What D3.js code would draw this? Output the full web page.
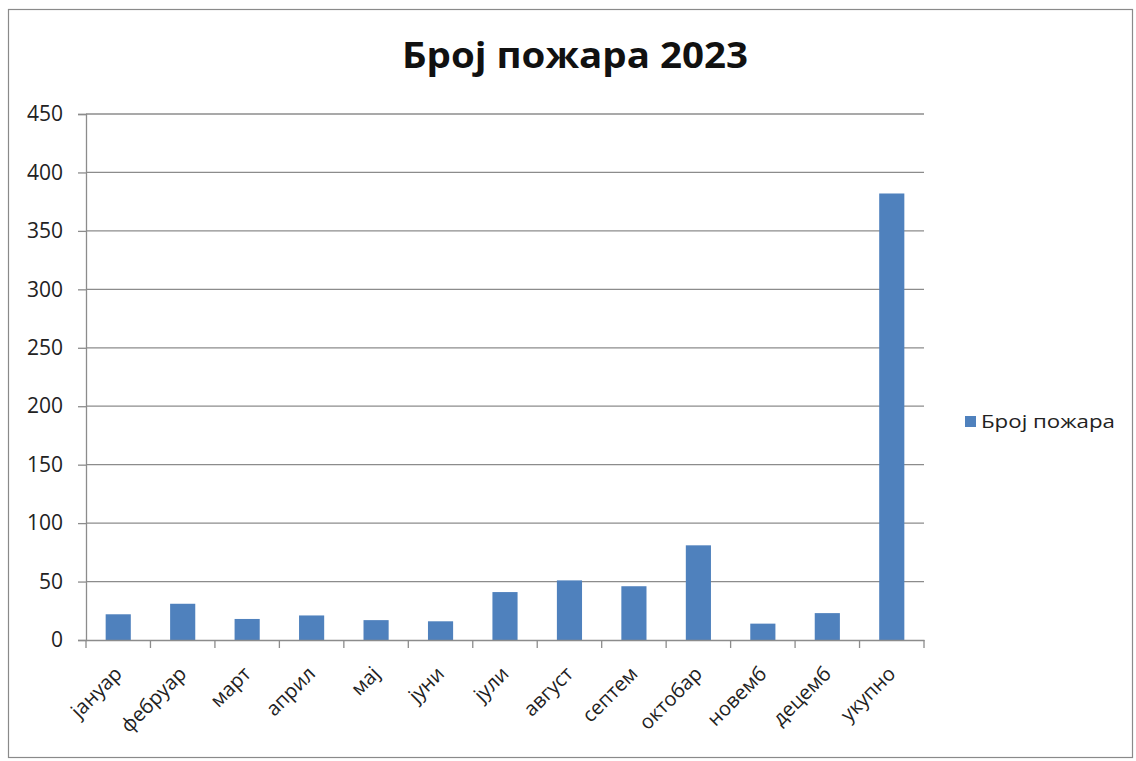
<!DOCTYPE html>
<html>
<head>
<meta charset="utf-8">
<script src="https://cdn.jsdelivr.net/npm/d3@7"></script>
<style>
  body { margin: 0; background: #fff; }
  svg { display: block; }
</style>
</head>
<body>
<div id="chart"></div>
<script>
// podaci
const months = ['јануар', 'фебруар', 'март', 'април', 'мај', 'јуни', 'јули',
    'август', 'септем', 'октобар', 'новемб', 'децемб', 'укупно'];
const fires = [22, 31, 18, 21, 17, 16, 41, 51, 46, 81, 14, 23, 382];
const yTicks = [0, 50, 100, 150, 200, 250, 300, 350, 400, 450];
const seriesName = 'Број пожара';
const chartTitle = 'Број пожара 2023';

function createChart() {
    const width = 1136;
    const height = 761;
    const font = "'Open Sans', 'Noto Sans', sans-serif";

    const plot = { left: 86, right: 924, top: 114, bottom: 640 };

    const svg = d3.create('svg')
        .attr('width', width)
        .attr('height', height);

    svg.append('rect')
        .attr('x', 8.5)
        .attr('y', 9.5)
        .attr('width', 1124)
        .attr('height', 748)
        .attr('fill', 'white')
        .attr('stroke', '#8a8a8a')
        .attr('stroke-width', 1.2);

    const xScale = d3.scaleBand()
        .domain(months)
        .range([plot.left, plot.right])
        .padding(0);

    const yScale = d3.scaleLinear()
        .domain([0, 450])
        .range([plot.bottom, plot.top]);

    // gridlines
    svg.append('g')
        .selectAll('line')
        .data(yTicks.filter(d => d > 0))
        .enter().append('line')
        .attr('x1', plot.left)
        .attr('x2', plot.right)
        .attr('y1', d => yScale(d))
        .attr('y2', d => yScale(d))
        .attr('stroke', '#8c8c8c')
        .attr('stroke-width', 1.3);

    // y axis
    const yAxis = svg.append('g')
        .attr('transform', `translate(${plot.left},0)`)
        .call(d3.axisLeft(yScale).tickValues(yTicks).tickSize(8).tickPadding(15));
    yAxis.select('.domain').attr('stroke', '#8c8c8c').attr('stroke-width', 1.3);
    yAxis.selectAll('.tick line').attr('stroke', '#8c8c8c').attr('stroke-width', 1.3);
    yAxis.selectAll('.tick text')
        .attr('fill', '#222')
        .style('font-family', font)
        .style('font-size', '21px');

    // bars
    const barW = xScale.bandwidth() * 0.39;
    svg.append('g')
        .selectAll('rect')
        .data(fires)
        .enter().append('rect')
        .attr('x', (d, i) => xScale(months[i]) + (xScale.bandwidth() - barW) / 2)
        .attr('y', d => yScale(d))
        .attr('width', barW)
        .attr('height', d => yScale(0) - yScale(d))
        .attr('fill', '#4f81bd');

    // x axis
    const xAxis = svg.append('g')
        .attr('transform', `translate(0,${plot.bottom})`)
        .call(d3.axisBottom(xScale).tickSize(0).tickPadding(0));
    xAxis.select('.domain').attr('stroke', '#8c8c8c').attr('stroke-width', 1.3);
    xAxis.selectAll('.tick text').remove();

    const boundaries = months.map(m => xScale(m)).concat([plot.right]);
    xAxis.selectAll('.bound')
        .data(boundaries)
        .enter().append('line')
        .attr('x1', d => d)
        .attr('x2', d => d)
        .attr('y1', 0)
        .attr('y2', 8)
        .attr('stroke', '#8c8c8c')
        .attr('stroke-width', 1.3);

    svg.append('g')
        .selectAll('text')
        .data(months)
        .enter().append('text')
        .attr('transform', d => `translate(${xScale(d) + xScale.bandwidth() / 2 + 5},${plot.bottom + 35}) rotate(-45)`)
        .attr('text-anchor', 'end')
        .attr('fill', '#222')
        .style('font-family', font)
        .style('font-size', '20px')
        .text(d => d);

    // title
    svg.append('text')
        .attr('x', 402)
        .attr('y', 68)
        .attr('textLength', 346)
        .attr('lengthAdjust', 'spacingAndGlyphs')
        .attr('fill', '#111')
        .style('font-family', font)
        .style('font-size', '35px')
        .style('font-weight', 'bold')
        .text(chartTitle);

    // legend
    const legend = svg.append('g').attr('transform', 'translate(965,416)');
    legend.append('rect')
        .attr('width', 11)
        .attr('height', 11)
        .attr('fill', '#4f81bd');
    legend.append('text')
        .attr('x', 16)
        .attr('y', 11.5)
        .attr('textLength', 134)
        .attr('lengthAdjust', 'spacingAndGlyphs')
        .attr('fill', '#222')
        .style('font-family', font)
        .style('font-size', '18px')
        .text(seriesName);

    d3.select('#chart').node().append(svg.node());
}

createChart();
</script>
</body>
</html>
